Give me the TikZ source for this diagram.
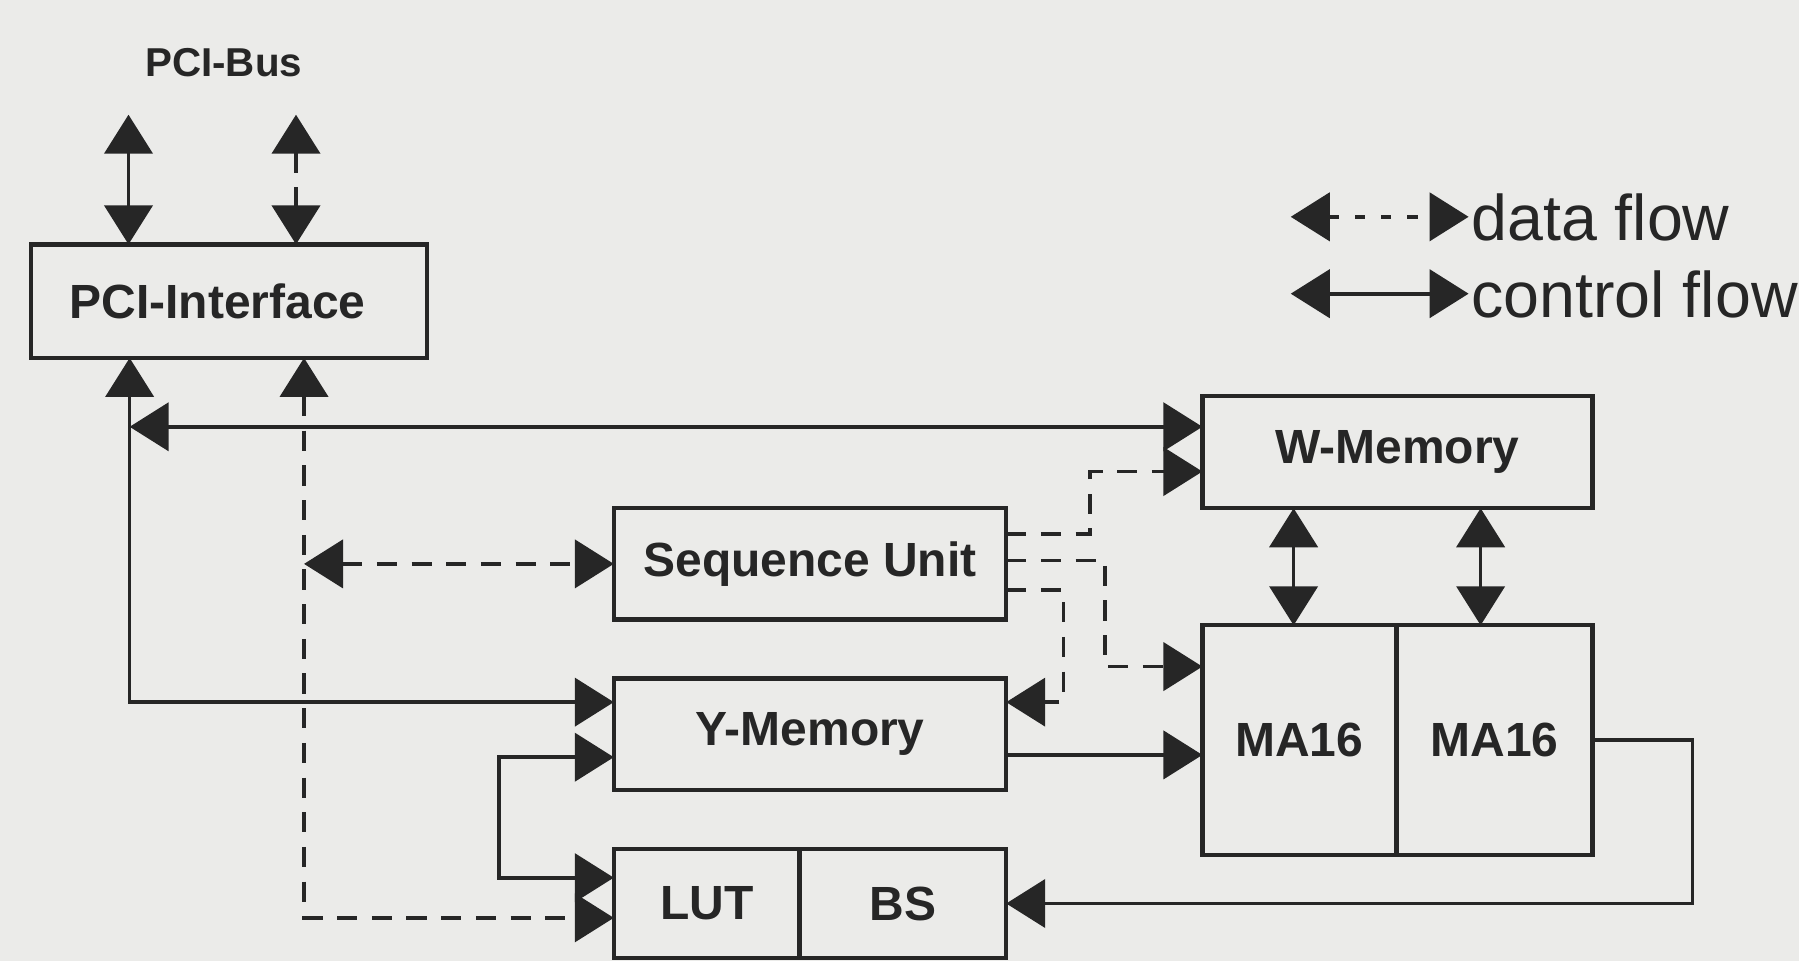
\documentclass[tikz,border=0pt]{standalone}
\usepackage{fontspec}
\setmainfont{Liberation Sans}
\usepackage{tikz}
\usetikzlibrary{positioning,arrows.meta,calc}
\definecolor{ink}{HTML}{262626}
\definecolor{paper}{HTML}{EBEBE9}

\begin{document}
\begin{tikzpicture}[font=\bfseries\fontsize{11.9}{13}\selectfont,
    box/.style={draw=ink, line width=1.1pt, text=ink, outer sep=0pt, inner sep=0pt,
      minimum width=3.42cm, minimum height=0.97cm},
    ctrl/.style={ink, line width=0.9pt},
    data/.style={ink, line width=0.9pt, dash pattern=on 5pt off 3.6pt},
    oneway/.style={-{Triangle[length=3.4mm,width=4.2mm]}},
    twoway/.style={{Triangle[length=3.4mm,width=4.2mm]}-{Triangle[length=3.4mm,width=4.2mm]}},
    legend/.style={text=ink, font=\fontsize{16}{18}\selectfont, anchor=base west, inner sep=0.5pt}]
  \fill[paper] (0,0) rectangle (15.68,8.38);
  \useasboundingbox (0,0) rectangle (15.68,8.38);

  % blocks
  \node[box, minimum width=3.45cm, minimum height=0.99cm] (pci) at (1.995,5.755) {\hspace*{-2mm}PCI-Interface};
  \node[box, minimum width=3.40cm, minimum height=0.98cm] (wmem) at (12.18,4.44) {W-Memory};
  \node[box] (seq) at (7.06,3.465) {Sequence Unit};
  \node[box] (ymem) at (7.06,1.98) {Y-Memory};
  \node[box, minimum width=1.62cm, minimum height=0.95cm] (lut) at (6.16,0.505) {LUT};
  \node[box, minimum width=1.80cm, minimum height=0.95cm, right=0pt of lut] (bs) {BS};
  \node[box, minimum width=1.69cm, minimum height=2.0cm] (maa) at (11.325,1.93) {MA16};
  \node[box, minimum width=1.71cm, minimum height=2.0cm, right=0pt of maa] (mab) {MA16};

  % bus
  \node[text=ink, font=\bfseries\fontsize{10}{12}\selectfont] (buslabel) at (1.95,7.83) {PCI-Bus};
  \coordinate (busa) at (1.12,7.38);
  \coordinate (busb) at (2.58,7.38);
  \draw[ctrl,twoway] (busa) -- (busa |- pci.north);
  \draw[data,twoway] (busb) -- (busb |- pci.north);

  % legend
  \node[legend] (datatxt) at (12.80,6.28) {data flow};
  \node[legend] (ctrltxt) at (12.80,5.61) {control flow};
  \coordinate (datal) at (11.25,6.49);
  \coordinate (ctrll) at (11.25,5.82);
  \draw[data,twoway,dash pattern=on 2.5pt off 4pt] (datal) -- (datal -| datatxt.west);
  \draw[ctrl,twoway] (ctrll) -- (ctrll -| ctrltxt.west);

  % control paths
  \coordinate (jc) at (1.13,4.66);
  \coordinate (jd) at (2.65,0.38);
  \draw[ctrl,twoway] (jc) -- (jc -| wmem.west);
  \draw[ctrl,twoway] (pci.south -| jc) |- ([yshift=2.8mm]ymem.west);
  \draw[ctrl,twoway] ([yshift=-2mm]ymem.west) -- ++(-1,0) |- ([yshift=2.25mm]lut.west);
  \draw[ctrl,oneway] ([yshift=-1.8mm]ymem.east) -- ([yshift=-1.8mm]ymem.east -| maa.west);
  \draw[ctrl,oneway] (mab.east) -- ++(0.87,0) |- (bs.east);
  \draw[ctrl,twoway] ([xshift=-0.5mm]maa.north) -- ([xshift=-0.5mm]maa.north |- wmem.south);
  \draw[ctrl,twoway] ([xshift=-1.2mm]mab.north) -- ([xshift=-1.2mm]mab.north |- wmem.south);

  % data paths
  \draw[data,twoway] (pci.south -| jd) |- ([yshift=-1.25mm]lut.west);
  \draw[data,twoway] (seq.west -| jd) -- (seq.west);
  \draw[data,oneway] ([yshift=2.6mm]seq.east) -- ++(0.73,0) |- ([yshift=-1.7mm]wmem.west);
  \draw[data,oneway] ([yshift=0.3mm]seq.east) -- ++(0.86,0) |- ([yshift=6.4mm]maa.west);
  \draw[data,oneway] ([yshift=-2.3mm]seq.east) -- ++(0.5,0) |- ([yshift=2.8mm]ymem.east);
\end{tikzpicture}
\end{document}
